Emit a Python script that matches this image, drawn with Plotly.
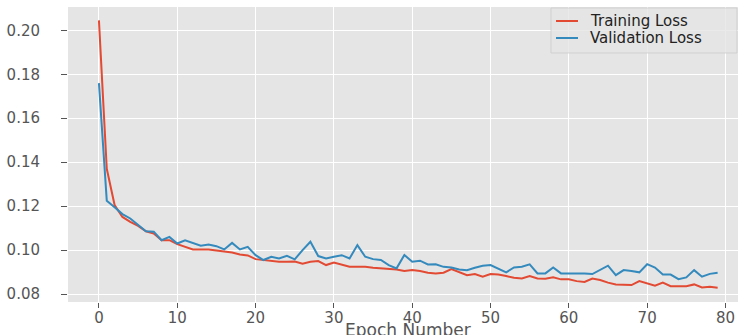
import plotly.graph_objects as go

epochs = list(range(80))

training_loss = [
    0.2045, 0.1370, 0.1205, 0.1151, 0.1129, 0.1110, 0.1086, 0.1076, 0.1045, 0.1045,
    0.1027, 0.1015, 0.1003, 0.1003, 0.1003, 0.0998, 0.0994, 0.0989, 0.0980, 0.0976,
    0.0959, 0.0955, 0.0950, 0.0947, 0.0947, 0.0948, 0.0938, 0.0947, 0.0950, 0.0932,
    0.0944, 0.0935, 0.0924, 0.0924, 0.0924, 0.0920, 0.0917, 0.0912, 0.0912, 0.0905,
    0.0909, 0.0905, 0.0897, 0.0894, 0.0897, 0.0914, 0.0899, 0.0886, 0.0891, 0.0879,
    0.0891, 0.0889, 0.0882, 0.0874, 0.0871, 0.0882, 0.0871, 0.0870, 0.0876, 0.0867,
    0.0867, 0.0859, 0.0855, 0.0871, 0.0864, 0.0852, 0.0844, 0.0841, 0.0841, 0.0859,
    0.0848, 0.0838, 0.0852, 0.0836, 0.0836, 0.0836, 0.0844, 0.0830, 0.0833, 0.0829,
]

validation_loss = [
    0.1760, 0.1225, 0.1195, 0.1164, 0.1144, 0.1115, 0.1086, 0.1084, 0.1045, 0.1060,
    0.1030, 0.1045, 0.1033, 0.1020, 0.1025, 0.1018, 0.1003, 0.1033, 0.1003, 0.1015,
    0.0977, 0.0955, 0.0970, 0.0962, 0.0974, 0.0958, 0.1000, 0.1038, 0.0973, 0.0962,
    0.0970, 0.0977, 0.0962, 0.1023, 0.0970, 0.0959, 0.0955, 0.0932, 0.0917, 0.0978,
    0.0947, 0.0952, 0.0935, 0.0936, 0.0924, 0.0921, 0.0912, 0.0909, 0.0920, 0.0929,
    0.0932, 0.0917, 0.0899, 0.0921, 0.0924, 0.0935, 0.0894, 0.0894, 0.0921, 0.0894,
    0.0894, 0.0897, 0.0894, 0.0891, 0.0909, 0.0929, 0.0886, 0.0909, 0.0905, 0.0899,
    0.0936, 0.0921, 0.0889, 0.0889, 0.0868, 0.0876, 0.0909, 0.0879, 0.0892, 0.0897,
]

series_names = ["Training Loss", "Validation Loss"]
series_colors = ["#E24A33", "#348ABD"]
x_title = "Epoch Number"

x_ticks = [0, 10, 20, 30, 40, 50, 60, 70, 80]
y_ticks = [0.08, 0.10, 0.12, 0.14, 0.16, 0.18, 0.20]
y_tick_labels = ["0.08", "0.10", "0.12", "0.14", "0.16", "0.18", "0.20"]

FONT = "DejaVu Sans"
W, H = 738, 335
ML, MR, MT, MB = 68, 0, 7, 33
PW, PH = W - ML - MR, H - MT - MB


def px_to_paper_x(px):
    return (px - ML) / PW


def px_to_paper_y(py):
    return (H - MB - py) / PH


fig = go.Figure()
for name, vals, col in zip(series_names, [training_loss, validation_loss], series_colors):
    fig.add_trace(go.Scatter(x=epochs, y=vals, mode="lines", name=name,
                             line=dict(color=col, width=2), showlegend=False))

# legend box (drawn manually to match the compact matplotlib legend)
shapes = [dict(type="rect", xref="paper", yref="paper",
               x0=px_to_paper_x(551), x1=px_to_paper_x(737),
               y0=px_to_paper_y(53), y1=px_to_paper_y(8),
               fillcolor="rgba(229,229,229,0.8)",
               line=dict(color="rgba(204,204,204,0.8)", width=1), layer="above")]
annotations = []
row_y = [21.0, 38.0]
for name, col, ry in zip(series_names, series_colors, row_y):
    shapes.append(dict(type="line", xref="paper", yref="paper",
                       x0=px_to_paper_x(556), x1=px_to_paper_x(578),
                       y0=px_to_paper_y(ry), y1=px_to_paper_y(ry),
                       line=dict(color=col, width=2), layer="above"))
    annotations.append(dict(text=name, xref="paper", yref="paper",
                            x=px_to_paper_x(588), y=px_to_paper_y(ry),
                            xanchor="left", yanchor="middle", showarrow=False,
                            font=dict(family=FONT, size=15, color="#222222")))

# x-axis title placed like the reference (partly below the frame edge)
annotations.append(dict(text=x_title, xref="paper", yref="paper",
                        x=px_to_paper_x(408), y=px_to_paper_y(330),
                        xanchor="center", yanchor="middle", showarrow=False,
                        font=dict(family=FONT, size=17, color="#555555")))

fig.update_layout(
    width=W, height=H,
    margin=dict(l=ML, r=MR, t=MT, b=MB),
    paper_bgcolor="white",
    plot_bgcolor="#E5E5E5",
    font=dict(family=FONT, size=15, color="#555555"),
    showlegend=False,
    shapes=shapes,
    annotations=annotations,
    xaxis=dict(
        range=[-3.95, 81.6],
        tickvals=x_ticks,
        showgrid=True, gridcolor="white", gridwidth=1.2,
        zeroline=False, showline=False,
        ticks="outside", ticklen=5, tickwidth=1, tickcolor="#555555",
        ticklabelstandoff=-3,
        tickfont=dict(family=FONT, size=15, color="#555555"),
        automargin=False,
    ),
    yaxis=dict(
        range=[0.0764, 0.2106],
        tickvals=y_ticks, ticktext=y_tick_labels,
        showgrid=True, gridcolor="white", gridwidth=1.2,
        zeroline=False, showline=False,
        ticks="outside", ticklen=6, tickwidth=1, tickcolor="#555555",
        ticklabelstandoff=18,
        tickfont=dict(family=FONT, size=15, color="#555555"),
        automargin=False,
    ),
)

fig.write_html("out.html", config={"displayModeBar": False},
               post_script="document.body.style.margin='0';")
